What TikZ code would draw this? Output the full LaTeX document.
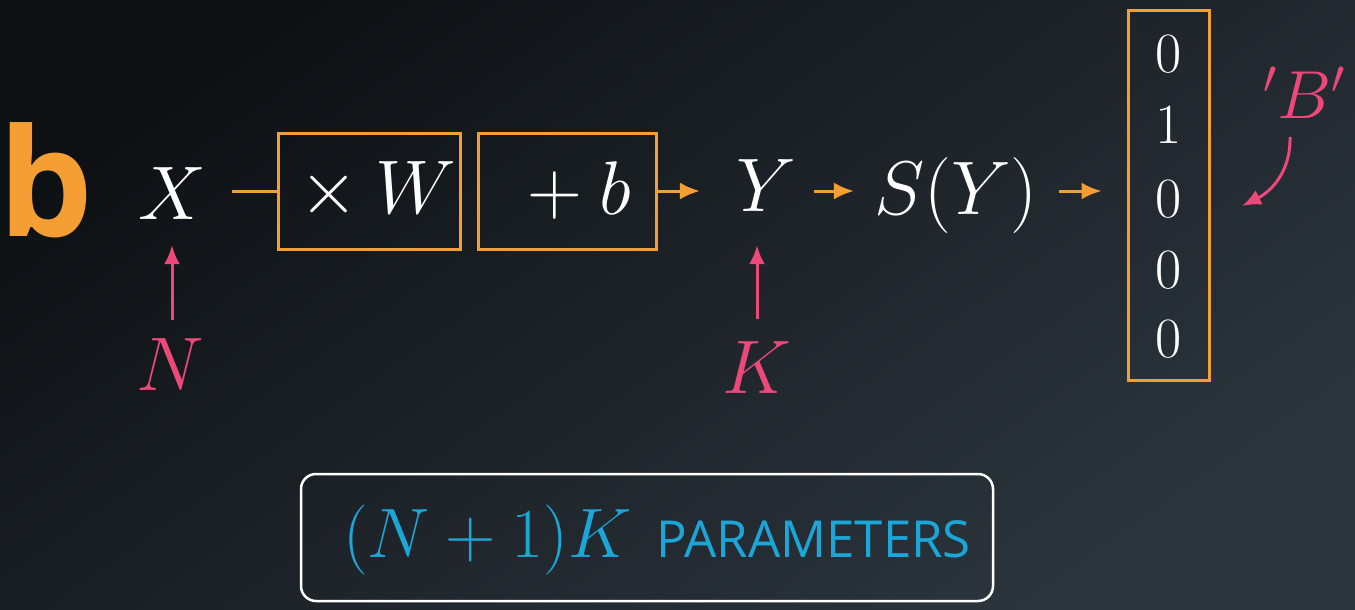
\documentclass[tikz,border=0pt]{standalone}
\usepackage{fix-cm}
\usepackage{fontspec}
\newfontfamily\sansf{Open Sans}
\usetikzlibrary{arrows.meta}
\definecolor{org}{RGB}{245,158,52}
\definecolor{pnk}{RGB}{236,72,122}
\definecolor{cyn}{RGB}{28,166,216}
\definecolor{bgA}{RGB}{14,17,20}
\definecolor{bgB}{RGB}{44,53,61}
\begin{document}
\begin{tikzpicture}[x=1pt,y=-1pt,
  mth/.style={text=white,inner sep=0pt,font=\fontsize{76}{80}\selectfont},
  pmth/.style={text=pnk,inner sep=0pt,font=\fontsize{76}{80}\selectfont},
  dig/.style={text=white,inner sep=0pt,font=\fontsize{57}{60}\selectfont},
  obox/.style={draw=org,line width=3pt,inner sep=0pt},
  oline/.style={draw=org,line width=3pt},
  oarr/.style={draw=org,line width=3pt,-{Latex[length=20pt,width=17pt]}},
  parr/.style={draw=pnk,line width=3pt,-{Latex[length=19pt,width=16pt]}}]
\useasboundingbox (0,0) rectangle (1355,610);
\shade[top color=bgA,bottom color=bgB,shading angle=35] (0,0) rectangle (1355,610);
% label b
\node[anchor=base,inner sep=0pt,text=org,font=\fontsize{150}{150}\sansf\bfseries] (lab) at (46,236) {b};
% main symbols
\node[mth,anchor=base] (X) at (172,219) {$X$};
\node[obox,minimum width=182pt,minimum height=116pt] (mul) at (369,191) {};
\node[mth] (multxt) at (mul.center) {${}\times W$};
\node[obox,minimum width=178pt,minimum height=116pt] (add) at (567,191) {};
\node[mth] (addtxt) at ([xshift=4pt]add.center) {${}+b$};
\node[mth,anchor=base] (Y) at (766,211) {$Y$};
\node[mth,anchor=base] (S) at (956,214) {$S(Y)$};
\node[obox,minimum width=81pt,minimum height=369pt] (vec) at (1168.5,195.5) {};
\node[dig,anchor=base] (d1) at (1169,73) {0};
\node[dig,anchor=base] (d2) at (1169,143) {1};
\node[dig,anchor=base] (d3) at (1169,217) {0};
\node[dig,anchor=base] (d4) at (1169,288) {0};
\node[dig,anchor=base] (d5) at (1169,357) {0};
% pink labels
\node[pmth,anchor=base] (N) at (170,390) {$N$};
\node[pmth,anchor=base] (K) at (757,393) {$K$};
\node[text=pnk,inner sep=0pt,font=\fontsize{68}{70}\selectfont,anchor=base] (B) at (1304,118) {$\mathstrut^{\prime}B^{\prime}$};
% connectors
\draw[oline,shorten <=26pt] (mul.west -| X.east) -- (mul.west);
\draw[oarr,shorten >=36pt] (add.east) -- (add.east -| Y.west);
\draw[oarr,shorten <=18pt,shorten >=20pt] (Y.east |- add.east) -- (S.west |- add.east);
\draw[oarr,shorten <=21pt,shorten >=25pt] (S.east |- add.east) -- (vec.west |- add.east);
\draw[parr,shorten <=18pt,shorten >=26pt] (N.north -| X.south) -- (X.south);
\draw[parr,shorten <=22pt,shorten >=34pt] (K.north) -- (K.north |- Y.south);
\coordinate (bs) at (1290,137);
\coordinate (bt) at (1242,206);
\draw[parr] (bs) .. controls (1291,168) and (1274,190) .. (bt);
% parameters box
\node[draw=white,line width=2.5pt,rounded corners=15pt,minimum width=692pt,minimum height=127pt] (pbox) at (647,537.5) {};
\node[text=cyn,inner sep=0pt,anchor=base west,font=\fontsize{70}{72}\selectfont] (pm) at (343,557) {$(N+1)K$};
\node[text=cyn,inner sep=0pt,anchor=base west,font=\fontsize{51}{53}\sansf] (pt) at (656,557) {PARAMETERS};
\end{tikzpicture}
\end{document}
